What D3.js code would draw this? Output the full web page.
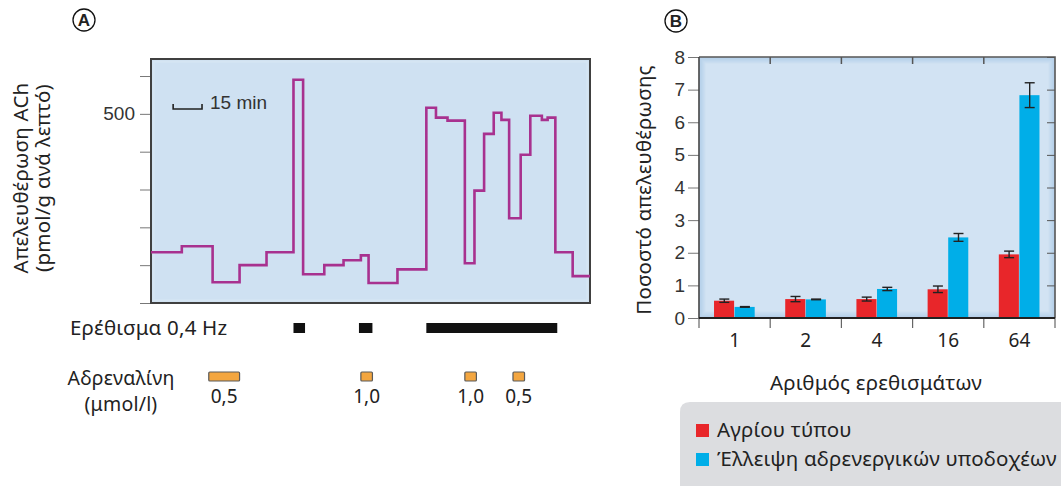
<!DOCTYPE html>
<meta charset="utf-8">
<title>ACh release</title>
<script src="https://d3js.org/d3.v7.min.js"></script>
<style>
  body { margin: 0; background: #fff; }
  text { fill: #222; }
  .num { font-family: "Liberation Sans", Arial, sans-serif; font-size: 19px; fill: #333; }
  .gr { font-family: "Noto Sans", "Open Sans", sans-serif; font-size: 20.5px; letter-spacing: 0.2px; fill: #222; }
  .grs { font-family: "Noto Sans", "Open Sans", sans-serif; font-size: 19px; fill: #222; }
</style>
<body>
</body>
<script>
  width = 1061;
  height = 486;

  // ---- panel A : ACh release trace (minutes, pmol/g per min) ----
  traceTime  = [0, 16, 32, 46, 60, 74, 79, 90, 100, 109, 113, 128, 143, 148, 154, 163, 168, 173, 178, 182, 186, 192, 197, 203, 206, 210, 219, 228];
  traceValue = [134, 150, 55, 100, 134, 590, 76, 100, 113, 126, 53, 89, 516, 490, 482, 105, 297, 447, 503, 484, 224, 392, 495, 484, 490, 134, 71, 71];
  yTicksA = [0, 100, 200, 300, 400, 500, 600];

  stimStart = [74, 108, 143];
  stimEnd   = [80, 115, 211];

  adrStart = [30, 109, 163, 188];
  adrEnd   = [46, 115, 169, 194];
  adrLabel = ["0,5", "1,0", "1,0", "0,5"];

  // ---- panel B : release fraction vs number of stimuli ----
  stimCounts = ["1", "2", "4", "16", "64"];
  series = ["Αγρίου τύπου", "Έλλειψη αδρενεργικών υποδοχέων"];
  wildType   = [0.53, 0.58, 0.58, 0.88, 1.95];
  wildErr    = [0.05, 0.08, 0.06, 0.10, 0.10];
  knockout   = [0.34, 0.57, 0.89, 2.47, 6.83];
  knockErr   = [0.01, 0.01, 0.05, 0.12, 0.38];
  seriesColor = ["#e8262a", "#00aee8"];

  const svg = d3.select("body").append("svg").attr("width", width).attr("height", height);

  ////////////////////////////////////////////////////////////
  //////////////////////// Panel A ///////////////////////////
  ////////////////////////////////////////////////////////////

  const xA = d3.scaleLinear().domain([0, 228]).range([151, 590]);
  const yA = d3.scaleLinear().domain([0, 645]).range([303, 59]);

  const gA = svg.append("g");

  gA.append("rect")
      .attr("x", xA.range()[0]).attr("y", yA.range()[1])
      .attr("width", xA.range()[1] - xA.range()[0])
      .attr("height", yA.range()[0] - yA.range()[1])
      .attr("fill", "#cfe1f2");

  // soft inner edge
  [3, 2, 1].forEach(i => {
    gA.append("rect")
        .attr("x", 151 + i).attr("y", 59 + i)
        .attr("width", 439 - 2 * i).attr("height", 244 - 2 * i)
        .attr("fill", "none").attr("stroke", "#e6f0fa").attr("stroke-opacity", 0.35 * i / 3);
  });

  gA.append("g")
      .attr("transform", "translate(151,0)")
      .call(d3.axisLeft(yA).tickValues(yTicksA).tickSize(11).tickPadding(5)
        .tickFormat(d => d === 500 ? "500" : ""))
      .call(g => g.select(".domain").remove())
      .call(g => g.selectAll("line").attr("stroke", "#777"))
      .call(g => g.selectAll("text").attr("class", "num").attr("font-size", null).attr("font-family", null));

  gA.append("rect")
      .attr("x", 151).attr("y", 59).attr("width", 439).attr("height", 244)
      .attr("fill", "none").attr("stroke", "#404040").attr("stroke-width", 2);

  const traceData = traceTime.map((t, i) => ({t: t, v: traceValue[i]}));
  const line = d3.line().x(d => xA(d.t)).y(d => yA(d.v)).curve(d3.curveStepAfter);

  gA.append("path")
      .datum(traceData)
      .attr("d", line)
      .attr("fill", "none")
      .attr("stroke", "#a8318f")
      .attr("stroke-width", 2.6);

  // 15 min scale bar
  const sb0 = xA(11.5), sb1 = xA(26.5);
  gA.append("path")
      .attr("d", `M${sb0},104V109H${sb1}V104`)
      .attr("fill", "none").attr("stroke", "#222").attr("stroke-width", 1.6);
  gA.append("text").attr("class", "num").attr("x", sb1 + 8).attr("y", 109).text("15 min");

  // y title
  gA.append("text").attr("class", "gr")
      .attr("transform", "translate(28,178) rotate(-90)")
      .attr("text-anchor", "middle").text("Απελευθέρωση ACh");
  gA.append("text").attr("class", "gr")
      .attr("transform", "translate(50,178) rotate(-90)")
      .attr("text-anchor", "middle").text("(pmol/g ανά λεπτό)");

  // stimulation bars
  gA.append("text").attr("class", "gr").attr("x", 70).attr("y", 335).text("Ερέθισμα 0,4 Hz");
  gA.selectAll(".stim")
      .data(stimStart)
      .join("rect")
      .attr("class", "stim")
      .attr("x", d => xA(d))
      .attr("y", 323)
      .attr("width", (d, i) => xA(stimEnd[i]) - xA(d))
      .attr("height", 10)
      .attr("fill", "#111");

  // adrenaline application
  gA.append("text").attr("class", "gr").attr("x", 121).attr("y", 385)
      .attr("text-anchor", "middle").style("font-size", "19.5px").text("Αδρεναλίνη");
  gA.append("text").attr("class", "gr").attr("x", 121).attr("y", 411)
      .attr("text-anchor", "middle").style("font-size", "19.5px").text("(μmol/l)");
  gA.selectAll(".adr")
      .data(adrStart)
      .join("rect")
      .attr("class", "adr")
      .attr("x", d => xA(d))
      .attr("y", 372)
      .attr("width", (d, i) => xA(adrEnd[i]) - xA(d))
      .attr("height", 9)
      .attr("rx", 1)
      .attr("fill", "#f3a640")
      .attr("stroke", "#5a5a5a")
      .attr("stroke-width", 1.2);
  gA.selectAll(".adrLab")
      .data(adrLabel)
      .join("text")
      .attr("class", "grs adrLab")
      .attr("x", (d, i) => (xA(adrStart[i]) + xA(adrEnd[i])) / 2)
      .attr("y", 403)
      .attr("text-anchor", "middle")
      .text(d => d);

  ////////////////////////////////////////////////////////////
  //////////////////////// Panel B ///////////////////////////
  ////////////////////////////////////////////////////////////

  const xB = d3.scaleBand().domain(stimCounts).range([699, 1055]).padding(0);
  const xS = d3.scaleBand().domain(series).range([0, xB.bandwidth()]).paddingInner(0).paddingOuter(0.73);
  const yB = d3.scaleLinear().domain([0, 8]).range([318, 57]);

  const gB = svg.append("g");

  gB.append("rect")
      .attr("x", 699).attr("y", 57).attr("width", 356).attr("height", 261)
      .attr("fill", "#d2e3f3");
  [6, 5, 4, 3, 2, 1].forEach(i => {
    gB.append("rect")
        .attr("x", 699 + i).attr("y", 57 + i)
        .attr("width", 356 - 2 * i).attr("height", 261 - 2 * i)
        .attr("fill", "none").attr("stroke", "#a9c7e6").attr("stroke-opacity", 0.14 * (7 - i));
  });

  gB.append("g")
      .attr("transform", "translate(699,0)")
      .call(d3.axisLeft(yB).ticks(8).tickSize(11).tickPadding(3))
      .call(g => g.select(".domain").remove())
      .call(g => g.selectAll("line").attr("stroke", "#777"))
      .call(g => g.selectAll("text").attr("class", "num").attr("font-size", null).attr("font-family", null));

  gB.append("g")
      .attr("transform", "translate(1055,0)")
      .call(d3.axisRight(yB).ticks(8).tickSize(-8).tickFormat(""))
      .call(g => g.select(".domain").remove())
      .call(g => g.selectAll("line").attr("stroke", "#555"));

  const bounds = stimCounts.map(c => xB(c)).concat([xB.range()[1]]);
  gB.selectAll(".topTick")
      .data(bounds.slice(1, -1))
      .join("line")
      .attr("x1", d => d).attr("x2", d => d)
      .attr("y1", 57).attr("y2", 64)
      .attr("stroke", "#555").attr("stroke-width", 1.5);
  gB.selectAll(".botTick")
      .data(bounds)
      .join("line")
      .attr("x1", d => d).attr("x2", d => d)
      .attr("y1", 318).attr("y2", 328)
      .attr("stroke", "#666").attr("stroke-width", 1.2);

  const barData = [];
  stimCounts.forEach((c, i) => {
    barData.push({c: c, s: series[0], v: wildType[i], e: wildErr[i], col: seriesColor[0]});
    barData.push({c: c, s: series[1], v: knockout[i], e: knockErr[i], col: seriesColor[1]});
  });

  gB.selectAll(".bar")
      .data(barData)
      .join("rect")
      .attr("class", "bar")
      .attr("x", d => xB(d.c) + xS(d.s))
      .attr("y", d => yB(d.v))
      .attr("width", xS.bandwidth() - 0.5)
      .attr("height", d => yB(0) - yB(d.v))
      .attr("fill", d => d.col);

  const err = gB.selectAll(".err")
      .data(barData)
      .join("g")
      .attr("class", "err")
      .attr("transform", d => `translate(${xB(d.c) + xS(d.s) + xS.bandwidth() / 2},0)`);
  err.append("line")
      .attr("y1", d => yB(d.v + d.e)).attr("y2", d => yB(d.v - d.e))
      .attr("stroke", "#222").attr("stroke-width", 1.4);
  err.selectAll(".cap")
      .data(d => [d.v + d.e, d.v - d.e])
      .join("line")
      .attr("x1", -5).attr("x2", 5)
      .attr("y1", d => yB(d)).attr("y2", d => yB(d))
      .attr("stroke", "#222").attr("stroke-width", 1.4);

  // frame
  gB.append("path")
      .attr("d", "M699,57H1055V318")
      .attr("fill", "none").attr("stroke", "#555").attr("stroke-width", 1.6);
  gB.append("line").attr("x1", 699).attr("x2", 699).attr("y1", 57).attr("y2", 318)
      .attr("stroke", "#444").attr("stroke-width", 1.6);
  gB.append("line").attr("x1", 699).attr("x2", 1055).attr("y1", 318).attr("y2", 318)
      .attr("stroke", "#222").attr("stroke-width", 2);

  gB.selectAll(".xLab")
      .data(stimCounts)
      .join("text")
      .attr("class", "grs xLab")
      .attr("x", d => xB(d) + xB.bandwidth() / 2)
      .attr("y", 347)
      .attr("text-anchor", "middle")
      .text(d => d);

  gB.append("text").attr("class", "gr").attr("x", 876).attr("y", 390)
      .attr("text-anchor", "middle").text("Αριθμός ερεθισμάτων");
  gB.append("text").attr("class", "gr")
      .attr("transform", "translate(651,190) rotate(-90)")
      .attr("text-anchor", "middle").text("Ποσοστό απελευθέρωσης");

  // legend
  gB.append("path")
      .attr("d", "M680,412Q680,402 690,402H1061V486H680Z")
      .attr("fill", "#dcdde0");
  const leg = gB.selectAll(".leg")
      .data(series)
      .join("g")
      .attr("class", "leg")
      .attr("transform", (d, i) => `translate(696,${424 + i * 29})`);
  leg.append("rect").attr("width", 13).attr("height", 13).attr("fill", (d, i) => seriesColor[i]);
  leg.append("text").attr("class", "gr").attr("x", 21).attr("y", 13).text(d => d);

  // panel letters
  [["A", 84, 20], ["B", 676, 21]].forEach(([t, cx, cy]) => {
    svg.append("circle").attr("cx", cx).attr("cy", cy).attr("r", 11)
        .attr("fill", "none").attr("stroke", "#111").attr("stroke-width", 1.3);
    svg.append("text").attr("x", cx).attr("y", cy + 6).attr("text-anchor", "middle")
        .attr("font-family", "Liberation Sans, Arial, sans-serif").attr("font-weight", "bold")
        .attr("font-size", 17).text(t);
  });
</script>
